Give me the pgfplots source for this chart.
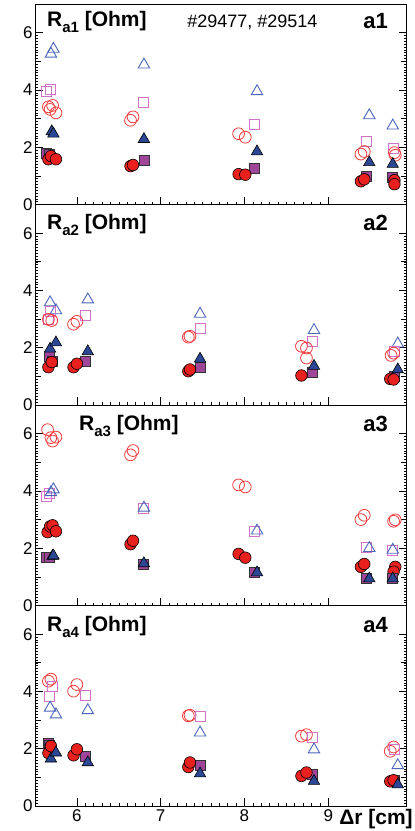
\documentclass[border=0pt]{standalone}
\usepackage{fontspec}
\setmainfont{Liberation Sans}
\usepackage{pgfplots}
\pgfplotsset{compat=1.18}
\definecolor{cRed}{HTML}{E8201E}
\definecolor{cPur}{HTML}{A0469A}
\definecolor{cNav}{HTML}{2C4894}
\definecolor{oRed}{HTML}{F03A3A}
\definecolor{oPur}{HTML}{D272C6}
\definecolor{oBlu}{HTML}{4A66BC}
\pgfplotsset{
  panel/.style={
    scale only axis, width=372pt, height=200.5pt,
    xmin=5.5, xmax=9.94, ymin=0, ymax=7,
    xtick={6,7,8,9}, minor x tick num=9,
    ytick={0,2,4,6}, minor y tick num=19,
    extra y ticks={1,3,5}, extra y tick labels={},
    extra y tick style={major tick length=5.5pt},
    tick align=inside, xtick pos=left, ytick pos=both,
    major tick length=8pt, minor tick length=3pt,
    axis line style={line width=1pt},
    every tick/.style={black, line width=0.6pt},
    minor tick style={line width=0.5pt},
    /pgf/number format/assume math mode=true,
    tick label style={font=\fontsize{17}{17}\selectfont},
    yticklabel style={xshift=1pt},
    clip=false,
  },
  fc/.style={only marks, mark=*, mark size=5.8pt, mark options={fill=cRed, draw=black, line width=0.6pt}},
  fs/.style={only marks, mark=square*, mark size=5pt, mark options={fill=cPur, draw=black!80, line width=0.6pt}},
  ft/.style={only marks, mark=triangle*, mark size=6.6pt, mark options={fill=cNav, draw=black, line width=0.6pt}},
  oc/.style={only marks, mark=o, mark size=5.9pt, mark options={draw=oRed, line width=0.8pt}},
  os/.style={only marks, mark=square, mark size=5pt, mark options={draw=oPur, line width=0.9pt}},
  ot/.style={only marks, mark=triangle, mark size=6.6pt, mark options={draw=oBlu, line width=0.9pt}},
}
\newcommand{\lab}[1]{\textbf{\fontsize{21}{21}\selectfont R\raisebox{-0.26em}{\fontsize{15}{15}\selectfont #1} [Ohm]}}
\newcommand{\tag}[1]{\textbf{\fontsize{22}{22}\selectfont #1}}
\begin{document}
\begin{tikzpicture}
% Panel 1
\begin{axis}[panel, at={(0pt,0pt)}, anchor=north west, xticklabels={}]
\addplot[ot] coordinates {(5.69,5.26)(5.72,5.43)(6.80,4.88)(8.15,3.95)(9.49,3.11)(9.77,2.75)};
\addplot[os] coordinates {(5.64,3.93)(5.68,4.02)(6.80,3.58)(8.12,2.79)(9.46,2.20)(9.78,1.94)};
\addplot[oc] coordinates {(5.66,3.41)(5.68,3.32)(5.71,3.46)(5.75,3.20)(6.64,2.94)(6.67,3.06)(7.93,2.47)(8.01,2.35)(9.39,1.76)(9.43,1.85)(9.79,1.81)(9.80,1.72)};
\addplot[fs] coordinates {(5.64,1.79)(5.67,1.76)(6.80,1.54)(8.12,1.26)(9.46,0.99)(9.76,0.96)};
\addplot[fc] coordinates {(5.66,1.58)(5.69,1.69)(5.75,1.58)(6.64,1.34)(6.67,1.38)(7.93,1.06)(8.01,1.04)(9.39,0.81)(9.43,0.88)(9.79,0.85)(9.79,0.71)};
\addplot[ft] coordinates {(5.70,2.55)(5.72,2.47)(6.80,2.28)(8.15,1.85)(9.49,1.47)(9.77,1.41)};
\node[anchor=base west, inner sep=0pt] at (axis description cs:0.032,0.887) {\lab{a1}};
\node[anchor=base west, inner sep=0pt] at (axis description cs:0.409,0.882) {\fontsize{18}{18}\selectfont \#29477, \#29514};
\node[anchor=base east, inner sep=0pt] at (axis description cs:0.949,0.876) {\tag{a1}};
\end{axis}
% Panel 2
\begin{axis}[panel, at={(0pt,-200.5pt)}, anchor=north west, xticklabels={}]
\addplot[ot] coordinates {(5.68,3.58)(5.75,3.30)(6.13,3.68)(7.47,3.18)(8.83,2.61)(9.83,2.14)};
\addplot[os] coordinates {(5.66,3.00)(5.69,3.27)(6.10,3.12)(7.47,2.67)(8.81,2.22)(9.79,1.88)};
\addplot[oc] coordinates {(5.66,2.99)(5.70,2.95)(5.96,2.82)(6.00,2.92)(7.33,2.37)(7.35,2.40)(8.68,2.05)(8.74,1.99)(8.74,1.64)(9.75,1.73)(9.78,1.81)};
\addplot[fs] coordinates {(5.67,1.71)(5.71,1.53)(6.10,1.52)(7.47,1.32)(8.81,1.15)(9.79,1.00)};
\addplot[fc] coordinates {(5.66,1.32)(5.70,1.50)(5.96,1.32)(6.00,1.44)(7.33,1.18)(7.35,1.24)(8.68,1.03)(9.74,0.91)(9.78,0.89)};
\addplot[ft] coordinates {(5.68,1.96)(5.75,2.18)(6.13,1.87)(7.47,1.61)(8.83,1.36)(9.83,1.24)};
\node[anchor=base west, inner sep=0pt] at (axis description cs:0.032,0.874) {\lab{a2}};
\node[anchor=base east, inner sep=0pt] at (axis description cs:0.949,0.869) {\tag{a2}};
\end{axis}
% Panel 3
\begin{axis}[panel, at={(0pt,-401pt)}, anchor=north west, xticklabels={}]
\addplot[oc] coordinates {(5.65,6.14)(5.69,5.86)(5.71,5.74)(5.75,5.88)(6.64,5.26)(6.67,5.41)(7.93,4.21)(8.01,4.14)(9.39,3.00)(9.43,3.15)(9.78,2.94)(9.80,2.99)};
\addplot[os] coordinates {(5.64,3.82)(5.67,3.91)(6.79,3.38)(8.12,2.59)(9.46,2.02)(9.77,1.92)};
\addplot[ot] coordinates {(5.69,3.95)(5.72,4.05)(6.80,3.41)(8.15,2.61)(9.49,2.00)(9.77,1.94)};
\addplot[fc] coordinates {(5.65,2.56)(5.68,2.76)(5.71,2.80)(5.75,2.59)(6.64,2.14)(6.67,2.26)(7.93,1.80)(8.01,1.67)(9.39,1.35)(9.43,1.45)(9.80,1.35)(9.78,1.18)};
\addplot[fs] coordinates {(5.63,1.68)(5.67,1.68)(6.79,1.44)(8.12,1.15)(9.46,0.94)(9.76,0.94)};
\addplot[ft] coordinates {(5.71,1.73)(5.72,1.74)(6.80,1.47)(8.15,1.15)(9.49,0.94)(9.77,0.94)};
\node[anchor=base west, inner sep=0pt] at (axis description cs:0.118,0.872) {\lab{a3}};
\node[anchor=base east, inner sep=0pt] at (axis description cs:0.949,0.868) {\tag{a3}};
\end{axis}
% Panel 4
\begin{axis}[panel, at={(0pt,-601.5pt)}, anchor=north west]
\addplot[oc] coordinates {(5.66,4.36)(5.69,4.43)(5.96,4.01)(6.00,4.24)(7.33,3.15)(7.35,3.17)(8.68,2.44)(8.74,2.49)(9.74,1.91)(9.78,2.06)};
\addplot[os] coordinates {(5.67,3.81)(5.71,4.18)(6.10,3.85)(7.47,3.11)(8.81,2.38)(9.79,1.98)};
\addplot[ot] coordinates {(5.68,3.43)(5.75,3.19)(6.13,3.34)(7.47,2.56)(8.83,1.97)(9.83,1.42)};
\addplot[fs] coordinates {(5.66,2.18)(5.67,2.12)(6.10,1.75)(7.47,1.42)(8.81,1.10)(9.79,0.90)};
\addplot[fc] coordinates {(5.66,1.85)(5.69,2.09)(5.96,1.77)(6.00,1.98)(7.33,1.36)(7.35,1.52)(8.68,1.05)(8.74,1.17)(9.74,0.86)(9.78,0.90)};
\addplot[ft] coordinates {(5.69,1.65)(5.75,1.86)(6.13,1.52)(7.47,1.13)(8.83,0.87)(9.83,0.75)};
\node[anchor=base west, inner sep=0pt] at (axis description cs:0.032,0.870) {\lab{a4}};
\node[anchor=base east, inner sep=0pt] at (axis description cs:0.949,0.864) {\tag{a4}};
\node[anchor=base east, inner sep=0pt] at (axis description cs:1.016,-0.093) {\textbf{\fontsize{21}{21}\selectfont Δr [cm]}};
\end{axis}
\pgfresetboundingbox
\path[use as bounding box] (-35pt,4pt) rectangle (380pt,-827pt);
\end{tikzpicture}
\end{document}
